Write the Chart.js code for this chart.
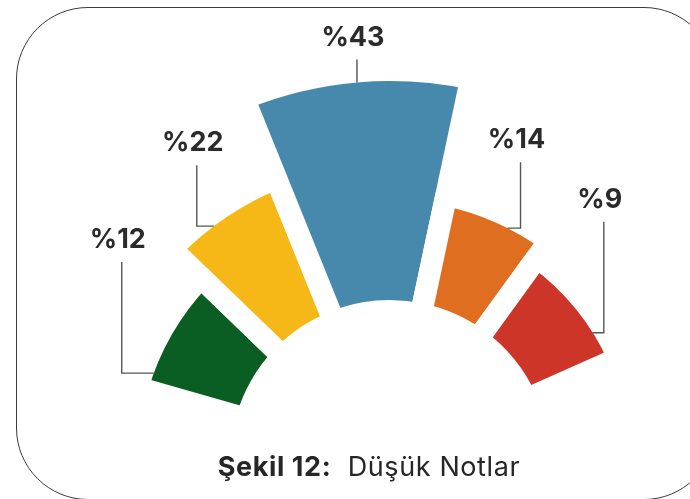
<!DOCTYPE html>
<html lang="tr">
<head>
<meta charset="utf-8">
<title>Şekil 12: Düşük Notlar</title>
<script src="https://cdn.jsdelivr.net/npm/chart.js@4.4.1/dist/chart.umd.min.js"></script>
<style>
    html, body {
        margin: 0;
        padding: 0;
        width: 690px;
        height: 499px;
        overflow: hidden;
        background: #ffffff;
    }
    .frame {
        position: absolute;
        left: 16px;
        top: 7px;
        width: 700px;
        height: 493px;
        box-sizing: border-box;
        border: 1.6px solid #3a3a3a;
        border-radius: 72px;
    }
    #chart-wrap {
        position: absolute;
        left: 0;
        top: 0;
    }
    .caption {
        position: absolute;
        left: 0;
        width: 738px;
        top: 452px;
        line-height: 30px;
        text-align: center;
        font-family: Inter, "Noto Sans", sans-serif;
        font-size: 27px;
        letter-spacing: 0.6px;
        color: #262626;
        white-space: nowrap;
    }
    .caption b {
        font-weight: 700;
    }
</style>
</head>
<body>
<div class="frame"></div>
<div id="chart-wrap"><canvas id="grades-chart" width="780" height="920"></canvas></div>
<div class="caption"><b>Şekil 12:</b>&nbsp; Düşük Notlar</div>

<script>
// Share of low grades (percent), left to right
const categories = ['Grup 1', 'Grup 2', 'Grup 3', 'Grup 4', 'Grup 5'];
const values = [12, 22, 43, 14, 9];
const labels = ['%12', '%22', '%43', '%14', '%9'];
const colors = ['#0b5e23', '#f5b817', '#4789ad', '#e06e20', '#cd3528'];
const sliceAngles = [28, 24, 34, 24, 30]; // degrees per slice

const GAP = 22;        // white gap between slices
const CUTOUT = 149;    // inner radius in px (before border)

// leader line layout: where on the arc it starts, horizontal run, vertical rise
const leaders = [
    { at: 0.15, dx: -32, rise: 111 },
    { at: 0.375, dx: -17, rise: 61 },
    { at: 0.5, dx: 0, rise: 23 },
    { at: 0.62, dx: 13, rise: 66 },
    { at: 0.73, dx: 11, rise: 111 }
];

const cutoutPlugin = {
    id: 'cutout',
    afterDatasetsUpdate(chart) {
        chart.getDatasetMeta(0).data.forEach(arc => {
            arc.innerRadius = CUTOUT;
        });
    }
};

const leaderPlugin = {
    id: 'leaders',
    afterDatasetsDraw(chart) {
        const ctx = chart.ctx;
        const arcs = chart.getDatasetMeta(0).data;
        ctx.save();
        arcs.forEach((arc, i) => {
            const l = leaders[i];
            const a = arc.startAngle + l.at * (arc.endAngle - arc.startAngle);
            const r = arc.outerRadius - GAP / 2;
            const ax = arc.x + r * Math.cos(a);
            const ay = arc.y + r * Math.sin(a);
            const lx = ax + l.dx;
            const top = ay - l.rise;

            ctx.strokeStyle = '#555555';
            ctx.lineWidth = 1.4;
            ctx.beginPath();
            ctx.moveTo(ax, ay);
            ctx.lineTo(lx, ay);
            ctx.lineTo(lx, top);
            ctx.stroke();

            ctx.fillStyle = '#2b2b2b';
            ctx.font = '700 27px Inter, "Noto Sans", sans-serif';
            ctx.textAlign = 'center';
            ctx.textBaseline = 'middle';
            ctx.fillText(labels[i], lx - 4, top - 22);
        });
        ctx.restore();
    }
};

new Chart(document.getElementById('grades-chart'), {
    type: 'polarArea',
    data: {
        labels: categories,
        datasets: [{
            data: values,
            backgroundColor: colors,
            borderColor: '#ffffff',
            borderWidth: GAP,
            angle: sliceAngles
        }]
    },
    options: {
        responsive: false,
        animation: false,
        layout: { padding: 0 },
        plugins: {
            legend: { display: false },
            tooltip: { enabled: false }
        },
        scales: {
            r: {
                display: false,
                min: -52,
                max: 43,
                startAngle: -74
            }
        }
    },
    plugins: [cutoutPlugin, leaderPlugin]
});
</script>
</body>
</html>
